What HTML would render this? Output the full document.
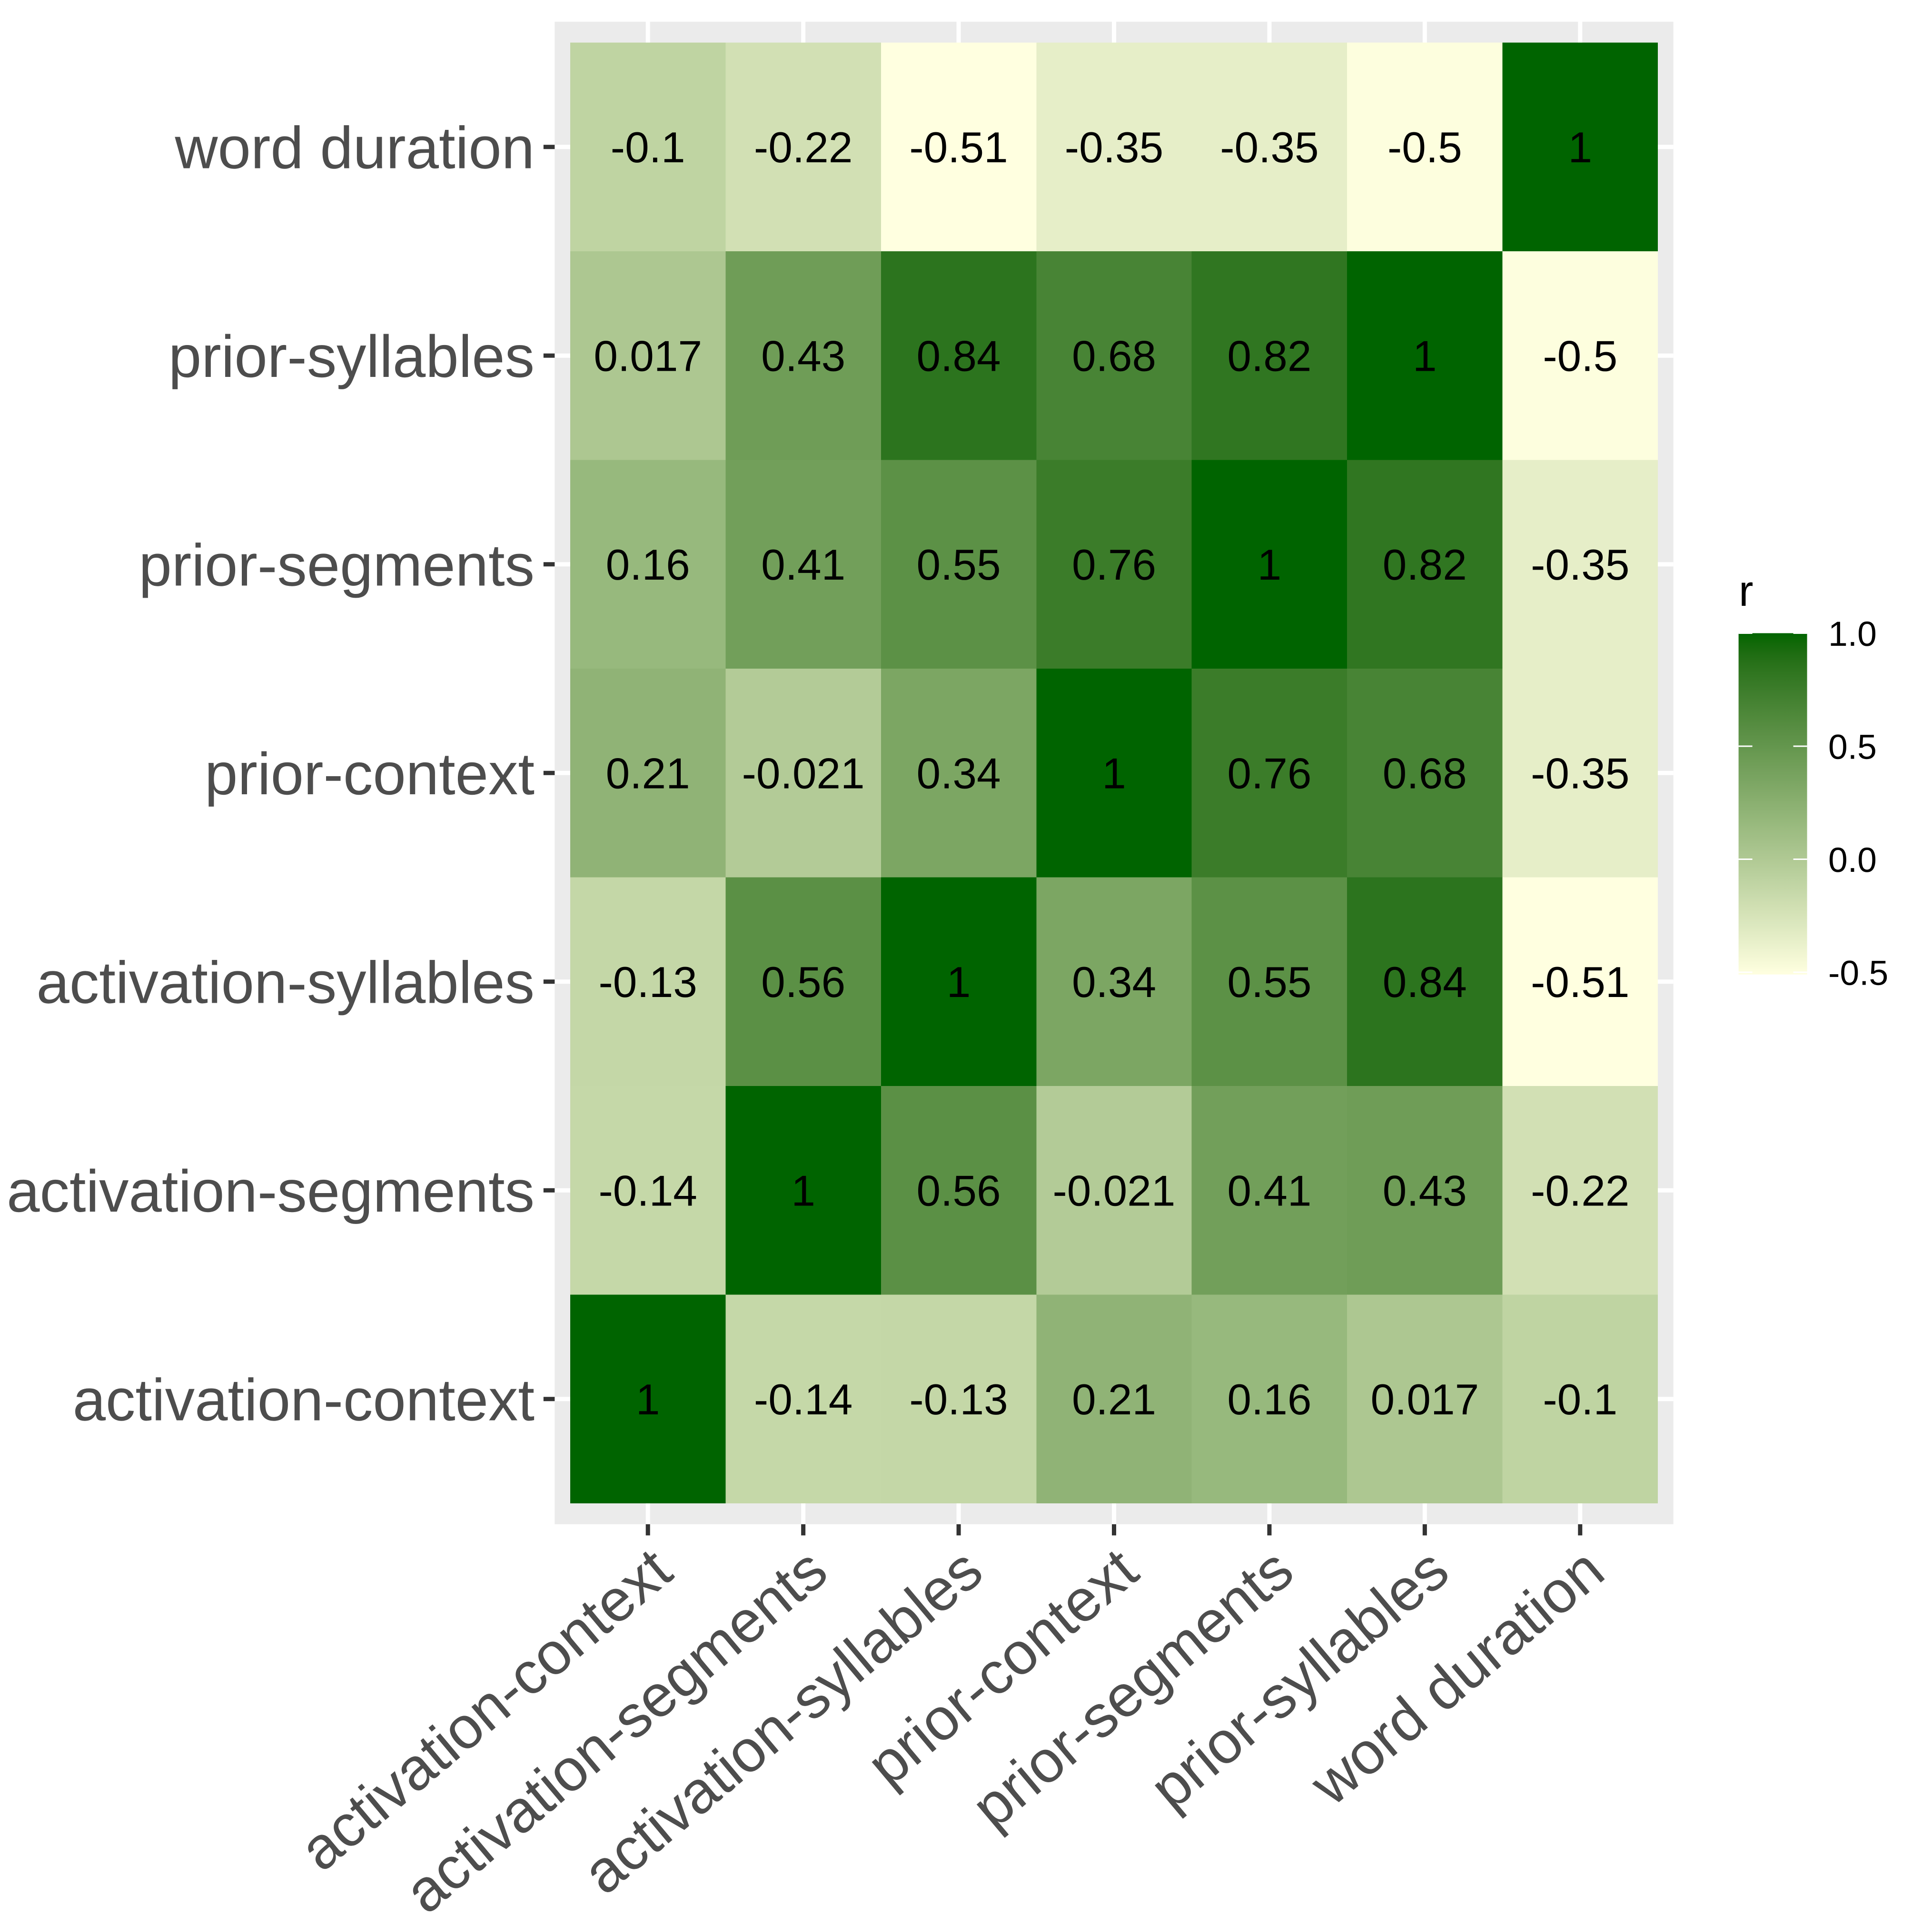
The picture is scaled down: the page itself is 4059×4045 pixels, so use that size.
<!DOCTYPE html>
<html>
<head>
<meta charset="utf-8">
<title>Correlation heatmap</title>
<style>
html,body{margin:0;padding:0;background:#fff;}
svg{display:block;}
text{font-family:"Liberation Sans",Arial,sans-serif;text-rendering:geometricPrecision;}
</style>
</head>
<body>
<svg id="chart" xmlns="http://www.w3.org/2000/svg" width="4059" height="4045" viewBox="0 0 4059 4045">
  <defs>
    <linearGradient id="legend-gradient" x1="0" y1="1" x2="0" y2="0"></linearGradient>
  </defs>
  <rect x="0" y="0" width="4059" height="4045" fill="#ffffff"></rect>
</svg>
<script>
const categories = ["activation-context","activation-segments","activation-syllables","prior-context","prior-segments","prior-syllables","word duration"];
const activationContext = [1,-0.14,-0.13,0.21,0.16,0.017,-0.1];
const activationSegments = [-0.14,1,0.56,-0.021,0.41,0.43,-0.22];
const activationSyllables = [-0.13,0.56,1,0.34,0.55,0.84,-0.51];
const priorContext = [0.21,-0.021,0.34,1,0.76,0.68,-0.35];
const priorSegments = [0.16,0.41,0.55,0.76,1,0.82,-0.35];
const priorSyllables = [0.017,0.43,0.84,0.68,0.82,1,-0.5];
const wordDuration = [-0.1,-0.22,-0.51,-0.35,-0.35,-0.5,1];
const rows = [activationContext,activationSegments,activationSyllables,priorContext,priorSegments,priorSyllables,wordDuration];
const legendTicks = [-0.5,0,0.5,1];
const legendLabels = ["-0.5","0.0","0.5","1.0"];
const fillDomain = [-0.51,1];

const svg = document.getElementById('chart');
const NS = 'http://www.w3.org/2000/svg';

function make(tag, attrs, parent) {
  const el = document.createElementNS(NS, tag);
  for (const k in attrs) el.setAttribute(k, attrs[k]);
  (parent || svg).appendChild(el);
  return el;
}

/* axis geometry */
const tileLeft = 1198, tileRight = 3483, tileTop = 89.5, tileBottom = 3159;
const colW = (tileRight - tileLeft) / categories.length;
const rowH = (tileBottom - tileTop) / categories.length;
const panelL = tileLeft - colW * 0.1, panelR = tileRight + colW * 0.1;
const panelT = tileTop - rowH * 0.1, panelB = tileBottom + rowH * 0.1;
function xBand(i) { return tileLeft + i * colW; }
function yBand(i) { return tileBottom - (i + 1) * rowH; }
function xCenter(i) { return xBand(i) + colW / 2; }
function yCenter(i) { return yBand(i) + rowH / 2; }

/* colour scale: Lab interpolation lightyellow -> darkgreen */
function toLab(rgb) {
  const l = rgb.map(function (c) { c /= 255; return c <= 0.04045 ? c / 12.92 : Math.pow((c + 0.055) / 1.055, 2.4); });
  const X = (0.4124564*l[0] + 0.3575761*l[1] + 0.1804375*l[2]) / 0.95047;
  const Y = (0.2126729*l[0] + 0.7151522*l[1] + 0.0721750*l[2]);
  const Z = (0.0193339*l[0] + 0.1191920*l[1] + 0.9503041*l[2]) / 1.08883;
  const f = function (t) { return t > 0.008856 ? Math.cbrt(t) : 7.787*t + 16/116; };
  return [116*f(Y) - 16, 500*(f(X) - f(Y)), 200*(f(Y) - f(Z))];
}
function fromLab(lab) {
  const fy = (lab[0] + 16) / 116, fx = fy + lab[1] / 500, fz = fy - lab[2] / 200;
  const g = function (t) { const c = t*t*t; return c > 0.008856 ? c : (t - 16/116) / 7.787; };
  const X = g(fx)*0.95047, Y = g(fy), Z = g(fz)*1.08883;
  const lin = [
    3.2404542*X - 1.5371385*Y - 0.4985314*Z,
    -0.9692660*X + 1.8760108*Y + 0.0415560*Z,
    0.0556434*X - 0.2040259*Y + 1.0572252*Z
  ];
  const c = lin.map(function (v) {
    v = Math.min(1, Math.max(0, v));
    return Math.round(255 * (v <= 0.0031308 ? 12.92*v : 1.055*Math.pow(v, 1/2.4) - 0.055));
  });
  return 'rgb(' + c.join(',') + ')';
}
const labLow = toLab([255,255,224]);
const labHigh = toLab([0,100,0]);
function fillFor(v) {
  const t = Math.min(1, Math.max(0, (v - fillDomain[0]) / (fillDomain[1] - fillDomain[0])));
  return fromLab([0,1,2].map(function (i) { return labLow[i] + (labHigh[i] - labLow[i]) * t; }));
}

/* panel */
const panel = make('rect', {x: panelL, y: panelT, width: panelR - panelL, height: panelB - panelT, fill: '#EBEBEB'});



/* gridlines */
categories.forEach(function (c, i) {
  const gx = make('line', {x1: xCenter(i), x2: xCenter(i), y1: panelT, y2: panelB, stroke: '#ffffff', 'stroke-width': 9});
  
  
  const gy = make('line', {x1: panelL, x2: panelR, y1: yCenter(i), y2: yCenter(i), stroke: '#ffffff', 'stroke-width': 9});
  
  
});

/* heatmap cells */
rows.forEach(function (row, r) {
  row.forEach(function (v, c) {
    const cell = make('rect', {x: xBand(c), y: yBand(r), width: colW, height: rowH, fill: fillFor(v), 'shape-rendering': 'crispEdges'});
    
    
  });
});
rows.forEach(function (row, r) {
  row.forEach(function (v, c) {
    const lab = make('text', {x: xCenter(c), y: yCenter(r) + 32, 'text-anchor': 'middle', 'font-size': 91, fill: '#000000'});
    lab.textContent = String(v);
    
    
  });
});

/* axes */
categories.forEach(function (name, i) {
  const yt = make('line', {x1: panelL - 23.5, x2: panelL, y1: yCenter(i), y2: yCenter(i), stroke: '#333333', 'stroke-width': 9});
  
  

  const yl = make('text', {x: 1123, y: yCenter(i) + 44.5, 'text-anchor': 'end', 'font-size': 124.7, fill: '#4D4D4D'});
  yl.textContent = name;
  
  

  const xt = make('line', {x1: xCenter(i), x2: xCenter(i), y1: panelB, y2: panelB + 23.5, stroke: '#333333', 'stroke-width': 9});
  
  

  const ax = xCenter(i) + 58, ay = 3313;
  const xl = make('text', {x: ax, y: ay, 'text-anchor': 'end', 'font-size': 124.7, fill: '#4D4D4D', transform: 'rotate(-40 ' + ax + ' ' + ay + ')'});
  xl.textContent = name;
  
  
});

/* legend */
function legendY(v) { return 1330.5 + (1 - v) * 475; }
const grad = document.getElementById('legend-gradient');
for (let s = 0; s <= 40; s++) {
  const t = s / 40;
  make('stop', {offset: t, 'stop-color': fillFor(fillDomain[0] + t * (fillDomain[1] - fillDomain[0]))}, grad);
}
const barX = 3652.6, barW = 144;
const bar = make('rect', {x: barX, y: legendY(fillDomain[1]), width: barW, height: legendY(fillDomain[0]) - legendY(fillDomain[1]), fill: 'url(#legend-gradient)'});



const legendTitle = make('text', {x: 3653, y: 1273, 'font-size': 91.7, fill: '#000000'});
legendTitle.textContent = 'r';



legendTicks.forEach(function (v, i) {
  const y = legendY(v);
  const t1 = make('line', {x1: barX, x2: barX + 29, y1: y, y2: y, stroke: '#ffffff', 'stroke-width': 3});
  
  
  const t2 = make('line', {x1: barX + barW - 29, x2: barX + barW, y1: y, y2: y, stroke: '#ffffff', 'stroke-width': 3});
  
  
  const lt = make('text', {x: 3841, y: y + 26.5, 'font-size': 73.3, fill: '#000000'});
  lt.textContent = legendLabels[i];
  
  
});
</script>
</body>
</html>
